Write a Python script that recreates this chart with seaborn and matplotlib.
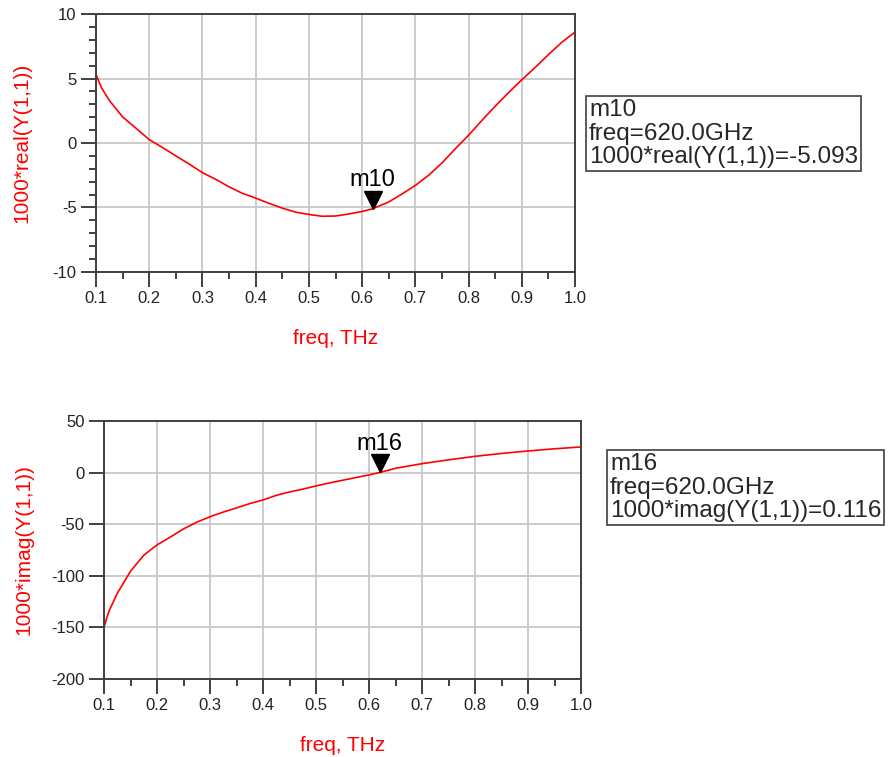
import numpy as np
import pandas as pd
import matplotlib
matplotlib.use('Agg')
import matplotlib.pyplot as plt
from matplotlib.ticker import MultipleLocator, FormatStrFormatter
import seaborn as sns

# data
freq_re = [0.100, 0.110, 0.125, 0.150, 0.175, 0.200, 0.225, 0.250, 0.275, 0.300,
           0.325, 0.350, 0.375, 0.400, 0.425, 0.450, 0.475, 0.500, 0.525, 0.550,
           0.575, 0.600, 0.620, 0.650, 0.675, 0.700, 0.725, 0.750, 0.775, 0.800,
           0.825, 0.850, 0.875, 0.900, 0.925, 0.950, 0.975, 1.000]
real_y11 = [5.31, 4.3, 3.3, 2.02, 1.15, 0.26, -0.35, -1.0, -1.63, -2.3,
            -2.82, -3.4, -3.9, -4.27, -4.68, -5.05, -5.36, -5.54, -5.68, -5.66,
            -5.5, -5.31, -5.093, -4.57, -3.95, -3.29, -2.5, -1.55, -0.45, 0.6,
            1.75, 2.85, 3.9, 4.9, 5.85, 6.85, 7.8, 8.6]

freq_im = [0.100, 0.105, 0.110, 0.125, 0.150, 0.175, 0.200, 0.225, 0.250, 0.275,
           0.300, 0.325, 0.350, 0.375, 0.400, 0.425, 0.450, 0.475, 0.500, 0.525,
           0.550, 0.575, 0.600, 0.620, 0.650, 0.700, 0.750, 0.800, 0.850, 0.900,
           0.950, 1.000]
imag_y11 = [-150, -141, -133.5, -117, -95.5, -80, -70, -62.5, -54.5, -48,
            -42.7, -38.2, -34.2, -30, -26.5, -22, -18.7, -16, -12.9, -10,
            -7.4, -4.8, -2.2, 0.116, 4.2, 8.7, 12.4, 15.8, 18.6, 21,
            23.1, 24.9]

marker_freq = 0.62
m10_val = -5.093
m16_val = 0.116

sns.set_style('white')
plt.rcParams['font.family'] = ['Liberation Sans', 'DejaVu Sans']
plt.rcParams['axes.unicode_minus'] = False

df_re = pd.DataFrame({'freq': freq_re, 'val': real_y11})
df_im = pd.DataFrame({'freq': freq_im, 'val': imag_y11})

fig = plt.figure(figsize=(8.89, 7.57), dpi=100)
ax1 = fig.add_axes([0.108, 0.6407, 0.5388, 0.3408])
ax2 = fig.add_axes([0.117, 0.1030, 0.5366, 0.3408])

red = '#ff0000'
spine_c = '#404040'
grid_c = '#c8c8c8'


def style_axis(ax, ylim, ymajor, yminor, ylabel, label_x):
    ax.set_xlim(0.1, 1.0)
    ax.set_ylim(*ylim)
    ax.xaxis.set_major_locator(MultipleLocator(0.1))
    ax.xaxis.set_minor_locator(MultipleLocator(0.05))
    ax.xaxis.set_major_formatter(FormatStrFormatter('%.1f'))
    ax.yaxis.set_major_locator(MultipleLocator(ymajor))
    if yminor:
        ax.yaxis.set_minor_locator(MultipleLocator(yminor))
    ax.grid(True, which='major', color=grid_c, lw=1.3)
    for s in ax.spines.values():
        s.set_color(spine_c)
        s.set_linewidth(1.4)
    ax.tick_params(which='major', direction='out', length=11, width=1.4,
                   color=spine_c, labelsize=12, labelcolor='#222222', pad=3,
                   left=True, bottom=True)
    ax.tick_params(which='minor', direction='out', length=5, width=1.4,
                   color=spine_c, left=bool(yminor), bottom=True)
    ax.set_xlabel('freq, THz', color=red, fontsize=15)
    ax.set_ylabel(ylabel, color=red, fontsize=15)
    ax.xaxis.set_label_coords(0.5, -0.222)
    ax.yaxis.set_label_coords(label_x, 0.5)


sns.lineplot(data=df_re, x='freq', y='val', ax=ax1, color=red, lw=1.2,
             estimator=None, sort=False)
sns.lineplot(data=df_im, x='freq', y='val', ax=ax2, color=red, lw=1.2,
             estimator=None, sort=False)

style_axis(ax1, (-10, 10), 5, 1, '1000*real(Y(1,1))', -0.134)
style_axis(ax2, (-200, 50), 50, None, '1000*imag(Y(1,1))', -0.149)


def add_marker(ax, name, val):
    ax.plot([marker_freq], [val], marker='v', markersize=13, color='black',
            transform=ax.transData + matplotlib.transforms.ScaledTranslation(
                0, 6.5 / 72, fig.dpi_scale_trans), clip_on=False, zorder=5)
    ax.annotate(name, xy=(marker_freq, val), xytext=(0, 16),
                textcoords='offset points', ha='center', va='baseline',
                fontsize=17, color='black')


add_marker(ax1, 'm10', m10_val)
add_marker(ax2, 'm16', m16_val)

box = dict(boxstyle='square,pad=0.12', facecolor='white', edgecolor=spine_c, lw=1.2)
fig.text(589 / 889, 1 - 99 / 757,
         'm10\nfreq=%.1fGHz\n1000*real(Y(1,1))=%.3f' % (marker_freq * 1000, m10_val),
         ha='left', va='top', fontsize=17.5, linespacing=1.1, bbox=box)
fig.text(610 / 889, 1 - 453 / 757,
         'm16\nfreq=%.1fGHz\n1000*imag(Y(1,1))=%.3f' % (marker_freq * 1000, m16_val),
         ha='left', va='top', fontsize=17.5, linespacing=1.1, bbox=box)

fig.savefig('out.png', dpi=100)
